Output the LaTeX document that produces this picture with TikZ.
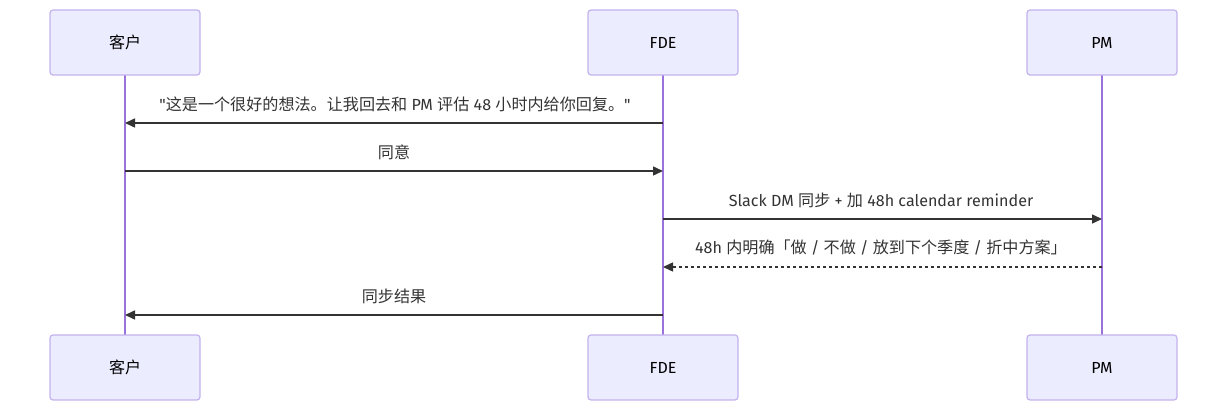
\documentclass[tikz,border=0pt]{standalone}
\usepackage{fontspec}
\setmainfont{Fira Sans}
\newfontfamily\cjk{Noto Sans CJK SC}
\newcommand\zh[1]{{\cjk #1}}
\usetikzlibrary{arrows.meta}
\definecolor{actfill}{HTML}{ECECFF}
\definecolor{actborder}{HTML}{C4B2EE}
\definecolor{lifeline}{HTML}{9A72DC}
\definecolor{msg}{HTML}{333333}
\tikzset{
  actor/.style={draw=actborder, fill=actfill, line width=1.2pt, rounded corners=3pt,
    minimum width=150pt, minimum height=65pt, inner sep=0pt, font=\fontsize{16}{19}\selectfont, text=black},
  life/.style={draw=lifeline, line width=1.6pt},
  msgline/.style={draw=msg, line width=1.5pt, -{Triangle[length=10pt,width=9pt]}},
  msglabel/.style={font=\fontsize{16.1}{19}\selectfont, text=msg, inner sep=0pt},
}
\begin{document}
\begin{tikzpicture}[x=1pt,y=-1pt]
\useasboundingbox (0,0) rectangle (1227,411);
% lifelines
\coordinate (ca) at (125,75);
\coordinate (cb) at (125,335);
\coordinate (fa) at (663,75);
\coordinate (fb) at (663,335);
\coordinate (pa) at (1102,75);
\coordinate (pb) at (1102,335);
\draw[life] (ca) -- (cb);
\draw[life] (fa) -- (fb);
\draw[life] (pa) -- (pb);
% actors
\node[actor] (c1) at (125,42.5) {\zh{客户}};
\node[actor] (f1) at (663,42.5) {FDE};
\node[actor] (p1) at (1102,42.5) {PM};
\node[actor] (c2) at (125,367.5) {\zh{客户}};
\node[actor] (f2) at (663,367.5) {FDE};
\node[actor] (p2) at (1102,367.5) {PM};
% message anchors
\coordinate (c123) at (125,123); \coordinate (f123) at (663,123);
\coordinate (c171) at (125,171); \coordinate (f171) at (663,171);
\coordinate (f219) at (663,219); \coordinate (p219) at (1102,219);
\coordinate (f267) at (663,267); \coordinate (p267) at (1102,267);
\coordinate (c315) at (125,315); \coordinate (f315) at (663,315);
\draw[msgline] (f123) -- (c123);
\node[msglabel] (m1) at (395,104) {\textquotedbl\zh{这是一个很好的想法。让我回去和} PM \zh{评估} 48 \zh{小时内给你回复。}\textquotedbl};
\draw[msgline] (c171) -- (f171);
\node[msglabel] (m2) at (394,152) {\zh{同意}};
\draw[msgline] (f219) -- (p219);
\node[msglabel] (m3) at (881,200) {Slack DM \zh{同步} + \zh{加} 48h calendar reminder};
\draw[msgline, dash pattern=on 3pt off 3pt] (p267) -- (f267);
\node[msglabel] (m4) at (881,248) {48h \zh{内明确「做} / \zh{不做} / \zh{放到下个季度} / \zh{折中方案」}};
\draw[msgline] (f315) -- (c315);
\node[msglabel] (m5) at (394,296) {\zh{同步结果}};
\end{tikzpicture}
\end{document}
